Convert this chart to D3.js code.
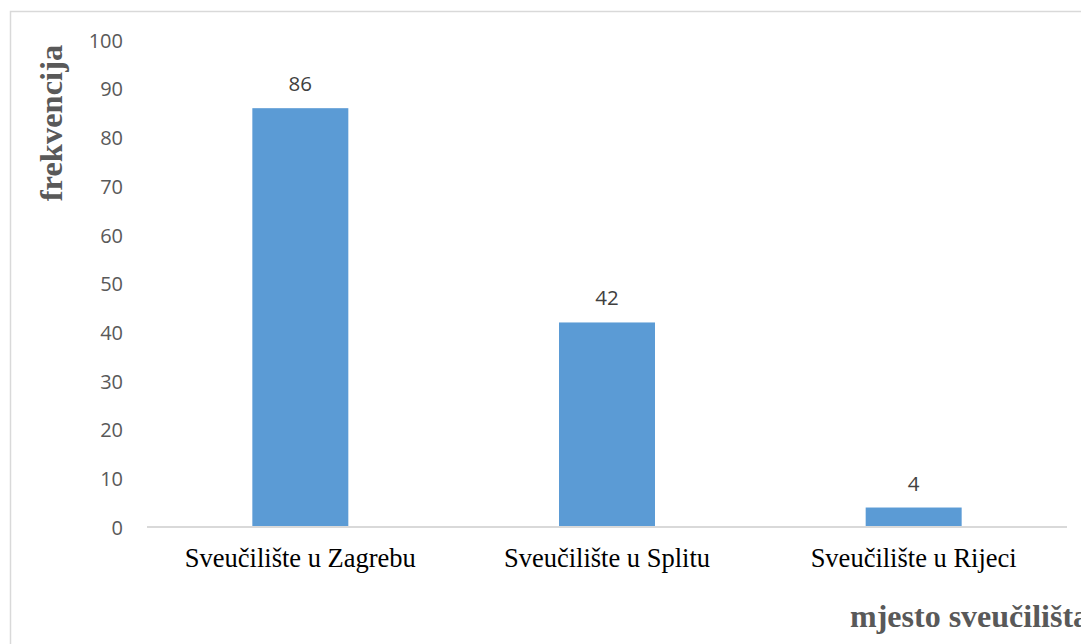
<!DOCTYPE html>
<html>
<head>
<meta charset="utf-8">
<script src="https://cdn.jsdelivr.net/npm/d3@7"></script>
<style>
    body { margin: 0; background: #ffffff; }
    svg { display: block; }
</style>
</head>
<body>
<div id="container"></div>
<script>

// data
var categories = ["Sveučilište u Zagrebu", "Sveučilište u Splitu", "Sveučilište u Rijeci"];
var values = [86, 42, 4];
var yTicks = [0, 10, 20, 30, 40, 50, 60, 70, 80, 90, 100];
var yTitle = "frekvencija";
var xTitle = "mjesto sveučilišta";

var width = 1081,
    height = 644;

var margin = { top: 40, right: 14, bottom: 117, left: 147 };

var svg = d3.select("#container")
    .append("svg")
    .attr("width", width)
    .attr("height", height);

// chart border (runs off the right and bottom edge)
svg.append("rect")
    .attr("x", 10.5)
    .attr("y", 11.5)
    .attr("width", 1200)
    .attr("height", 800)
    .attr("fill", "none")
    .attr("stroke", "#d9d9d9")
    .attr("stroke-width", 1.5);

var x = d3.scaleBand()
    .domain(categories)
    .range([margin.left, width - margin.right])
    .paddingInner(0.687)
    .paddingOuter(0.687 / 2);

var y = d3.scaleLinear()
    .domain([0, 100])
    .range([height - margin.bottom, margin.top]);

// y tick labels, no axis line
var yAxis = svg.append("g")
    .attr("transform", "translate(" + (margin.left - 24) + ",0)")
    .call(d3.axisLeft(y).tickValues(yTicks).tickSize(0).tickPadding(0));

yAxis.select(".domain").remove();
yAxis.selectAll("text")
    .attr("font-family", "'Open Sans', sans-serif")
    .attr("font-size", "20px")
    .attr("fill", "#595959")
    .attr("dy", "0.36em");

// bars
svg.append("g")
    .selectAll("rect")
    .data(values)
    .join("rect")
    .attr("x", function (d, i) { return x(categories[i]); })
    .attr("y", function (d) { return y(d); })
    .attr("width", x.bandwidth())
    .attr("height", function (d) { return y(0) - y(d); })
    .attr("fill", "#5b9bd5");

// data labels
svg.append("g")
    .selectAll("text")
    .data(values)
    .join("text")
    .attr("x", function (d, i) { return x(categories[i]) + x.bandwidth() / 2; })
    .attr("y", function (d) { return y(d) - 17; })
    .attr("text-anchor", "middle")
    .attr("font-family", "'Open Sans', sans-serif")
    .attr("font-size", "20.5px")
    .attr("fill", "#404040")
    .text(function (d) { return d; });

// x axis line + category labels
var xAxis = svg.append("g")
    .attr("transform", "translate(0," + y(0) + ")")
    .call(d3.axisBottom(x).tickSize(0).tickPadding(0));

xAxis.select(".domain")
    .attr("stroke", "#d9d9d9")
    .attr("stroke-width", 2)
    .attr("d", "M" + margin.left + ",0H" + (width - margin.right));

xAxis.selectAll("text")
    .attr("font-family", "'Liberation Serif', 'Times New Roman', serif")
    .attr("font-size", "26.5px")
    .attr("fill", "#000000")
    .attr("dy", null)
    .attr("y", 40);

// axis titles
svg.append("text")
    .attr("transform", "translate(62,123) rotate(-90)")
    .attr("text-anchor", "middle")
    .attr("font-family", "'Liberation Serif', 'Times New Roman', serif")
    .attr("font-weight", "bold")
    .attr("font-size", "32.5px")
    .attr("fill", "#595959")
    .text(yTitle);

// x title runs off the right edge, as in the reference
svg.append("text")
    .attr("x", 850)
    .attr("y", 627)
    .attr("font-family", "'Liberation Serif', 'Times New Roman', serif")
    .attr("font-weight", "bold")
    .attr("font-size", "32px")
    .attr("fill", "#595959")
    .text(xTitle);

</script>
</body>
</html>
